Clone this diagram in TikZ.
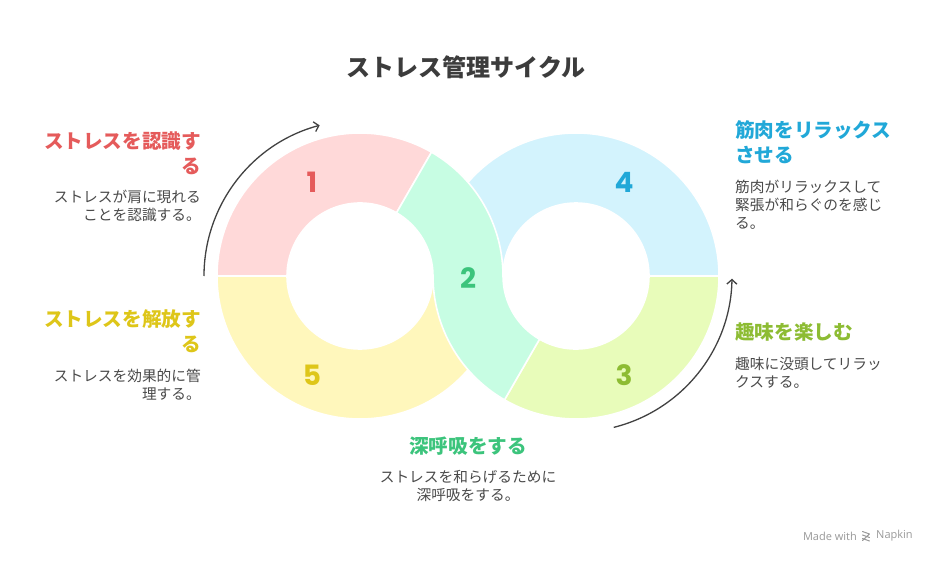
\documentclass[tikz,border=0pt]{standalone}
\usepackage{fontspec}
\setmainfont{Noto Sans CJK JP}
\newfontfamily\jp{Noto Sans CJK JP}
\newfontfamily\numfont{Poppins}
\newfontfamily\footfont{Open Sans}
\usetikzlibrary{arrows.meta}
\definecolor{pinkC}{HTML}{FFD9D9}
\definecolor{greenC}{HTML}{C7FDE3}
\definecolor{blueC}{HTML}{D3F3FD}
\definecolor{oliveC}{HTML}{E8FCBA}
\definecolor{yellowC}{HTML}{FFF7BC}
\definecolor{redT}{HTML}{E55B5B}
\definecolor{greenT}{HTML}{3CC47C}
\definecolor{blueT}{HTML}{21A8D8}
\definecolor{oliveT}{HTML}{8DBC33}
\definecolor{yellowT}{HTML}{DEC619}
\definecolor{bodyT}{HTML}{4A4A4A}
\definecolor{titleT}{HTML}{3C3C3C}
\definecolor{arrowC}{HTML}{424242}
\begin{document}
\begin{tikzpicture}[x=1pt,y=-1pt,
  seg/.style={draw=white,line width=1.6pt,line join=round},
  num/.style={font=\numfont\bfseries\fontsize{28}{30}\selectfont,inner sep=0pt},
  headR/.style={font=\jp\bfseries\fontsize{19.6}{25}\selectfont,inner sep=0pt,align=right,anchor=north east},
  headL/.style={font=\jp\bfseries\fontsize{19.6}{25}\selectfont,inner sep=0pt,align=left,anchor=north west},
  headC/.style={font=\jp\bfseries\fontsize{19.6}{25}\selectfont,inner sep=0pt,align=center,anchor=north},
  bodyR/.style={font=\jp\fontsize{14.7}{18}\selectfont,text=bodyT,inner sep=0pt,align=right,anchor=north east},
  bodyL/.style={font=\jp\fontsize{14.7}{18}\selectfont,text=bodyT,inner sep=0pt,align=left,anchor=north west},
  bodyC/.style={font=\jp\fontsize{14.7}{18}\selectfont,text=bodyT,inner sep=0pt,align=center,anchor=north},
  cyc/.style={draw=arrowC,line width=1.3pt,-{Straight Barb[length=4.5pt,width=10pt,line width=1.3pt]}}]
\path[fill=white] (0,0) rectangle (936,564);
\useasboundingbox (0,0) rectangle (936,564);
\def\cL{360}\def\cR{576}\def\cy{276}\def\Ro{143}\def\ri{73}
% left ring: pink (1)
\path[seg,fill=pinkC] ([shift={(\cL,\cy)}]180:\Ro) arc[start angle=180,end angle=300,radius=\Ro]
  -- ([shift={(\cL,\cy)}]300:\ri) arc[start angle=300,end angle=180,radius=\ri] -- cycle;
% left ring: yellow (5)
\path[seg,fill=yellowC] ([shift={(\cL,\cy)}]0:\Ro) arc[start angle=0,end angle=180,radius=\Ro]
  -- ([shift={(\cL,\cy)}]180:\ri) arc[start angle=180,end angle=0,radius=\ri] -- cycle;
% right ring: blue (4)
\path[seg,fill=blueC] ([shift={(\cR,\cy)}]180:\Ro) arc[start angle=180,end angle=360,radius=\Ro]
  -- ([shift={(\cR,\cy)}]0:\ri) arc[start angle=360,end angle=180,radius=\ri] -- cycle;
% right ring: olive (3)
\path[seg,fill=oliveC] ([shift={(\cR,\cy)}]0:\Ro) arc[start angle=0,end angle=120,radius=\Ro]
  -- ([shift={(\cR,\cy)}]120:\ri) arc[start angle=120,end angle=0,radius=\ri] -- cycle;
% green S band (2)
\path[seg,fill=greenC] ([shift={(\cL,\cy)}]300:\Ro) arc[start angle=300,end angle=360,radius=\Ro]
  arc[start angle=180,end angle=120,radius=\ri]
  -- ([shift={(\cR,\cy)}]120:\Ro) arc[start angle=120,end angle=180,radius=\Ro]
  arc[start angle=0,end angle=-60,radius=\ri] -- cycle;
% numbers
\node[num,text=redT]    (n1) at (312,182.5) {1};
\node[num,text=greenT]  (n2) at (468,278) {2};
\node[num,text=oliveT]  (n3) at (624,375) {3};
\node[num,text=blueT]   (n4) at (624,182) {4};
\node[num,text=yellowT] (n5) at (312,375) {5};
% cycle arrows
\coordinate (la) at ([shift={(\cL,\cy)}]180:156);
\coordinate (ra) at ([shift={(\cR,\cy)}]76:156);
\draw[cyc] (la) arc[start angle=180,end angle=255,radius=156];
\draw[cyc] (ra) arc[start angle=76,end angle=1,radius=156];
% title
\node[font=\jp\bfseries\fontsize{24}{28}\selectfont,text=titleT,inner sep=0pt] (title) at (466,67.5) {ストレス管理サイクル};
% texts
\node[headR,text=redT] (h1) at (201,131.5) {ストレスを認識す\\る};
\node[bodyR] (b1) at (201,190) {ストレスが肩に現れる\\ことを認識する。};
\node[headR,text=yellowT] (h5) at (201,310) {ストレスを解放す\\る};
\node[bodyR] (b5) at (201,368.5) {ストレスを効果的に管\\理する。};
\node[headL,text=blueT] (h4) at (735,120) {筋肉をリラックス\\させる};
\node[bodyL] (b4) at (735,180) {筋肉がリラックスして\\緊張が和らぐのを感じ\\る。};
\node[headL,text=oliveT] (h3) at (735,323) {趣味を楽しむ};
\node[bodyL] (b3) at (735,356.5) {趣味に没頭してリラッ\\クスする。};
\node[headC,text=greenT] (h2) at (468,436.5) {深呼吸をする};
\node[bodyC] (b2) at (468,470) {ストレスを和らげるために\\深呼吸をする。};
% footer
\node[font=\footfont\fontsize{11}{12}\selectfont,text=black!40,inner sep=0pt,anchor=east] (made) at (857,536) {Made with};
\node[font=\footfont\fontsize{11}{12}\selectfont,text=black!40,inner sep=0pt,anchor=west] (napkin) at (876,536) {Napkin};
\coordinate (logo) at (866.5,536);
\draw[black!40,line width=1pt,line cap=round] ([shift={(logo)}]-4,-4.5) -- ++(7,2.5) ([shift={(logo)}]-4,-1) -- ++(7,2.5) ([shift={(logo)}]-4,2.5) -- ++(7,2.5) ([shift={(logo)}]3,-2) -- ++(-7,6.5);
\end{tikzpicture}
\end{document}
